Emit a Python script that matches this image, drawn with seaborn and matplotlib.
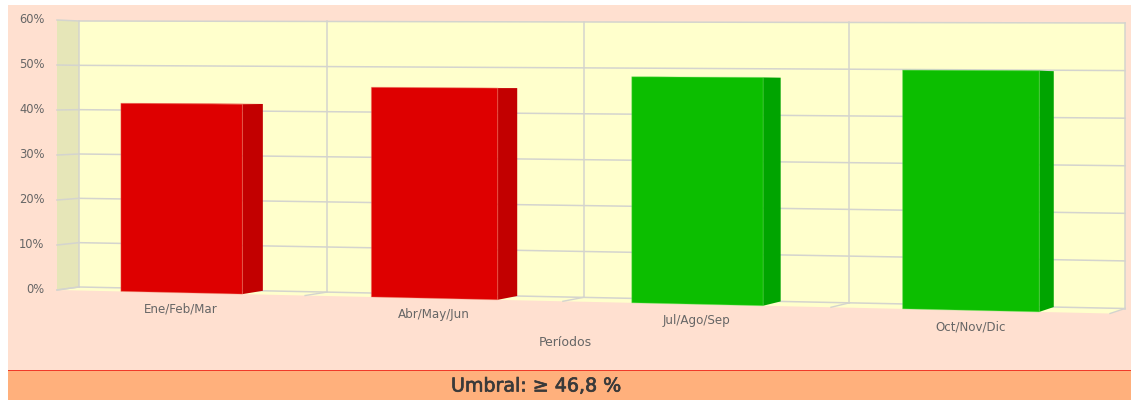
import numpy as np
import pandas as pd
import matplotlib
matplotlib.use('Agg')
import matplotlib.pyplot as plt
import matplotlib.patheffects as pe
from matplotlib.patches import Polygon, Rectangle
from matplotlib.transforms import Transform, IdentityTransform
import seaborn as sns

# values
periodos = ['Ene/Feb/Mar', 'Abr/May/Jun', 'Jul/Ago/Sep', 'Oct/Nov/Dic']
valores = [41.6, 45.5, 48.1, 49.8]
umbral = 46.8
ticks_y = [0, 10, 20, 30, 40, 50, 60]

W, H = 1131, 400
BAR_COLORS = {False: '#DE0000', True: '#0CBE00'}
SIDE_COLORS = {False: '#C20000', True: '#00A400'}
EDGE_COLORS = {False: '#F0807055', True: '#70E06055'}
GRID = '#D4D4CE'
TEXT = '#666666'


# maps (category, percent) to pixels, so the flat bar chart gets the perspective look
class Plane(Transform):
    input_dims = 2
    output_dims = 2

    def __init__(self, bl, br, tl, tr):
        super().__init__()
        src = [(-0.5, 0), (3.5, 0), (-0.5, 60), (3.5, 60)]
        A, b = [], []
        for (u, v), (x, y) in zip(src, [bl, br, tl, tr]):
            A.append([u, v, 1, 0, 0, 0, -u * x, -v * x])
            A.append([0, 0, 0, u, v, 1, -u * y, -v * y])
            b += [x, y]
        self.h = np.append(np.linalg.solve(np.array(A, float), np.array(b, float)), 1).reshape(3, 3)

    def transform_non_affine(self, values):
        values = np.asarray(values, float)
        p = np.column_stack([values, np.ones(len(values))]) @ self.h.T
        return np.column_stack([p[:, 0] / p[:, 2], H - p[:, 1] / p[:, 2]])


FRONT = Plane((57, 290), (1110, 313.5), (57, 20), (1110, 21.5))
BACK = Plane((79, 287), (1125, 308.5), (79, 21), (1125, 23))
# bars sit a little right of the wall edges
BAR_FRONT = Plane((58.5, 290), (1111.5, 313.5), (58.5, 20), (1111.5, 21.5))

fig = plt.figure(figsize=(W / 100, H / 100), dpi=100, facecolor='white')
fig.patches.append(Rectangle((8 / W, 0), 1, 1 - 5 / H, transform=fig.transFigure, fc='#FFE0D0', ec='none', zorder=-5))
fig.patches.append(Rectangle((8 / W, 0), 1, 29 / H, transform=fig.transFigure, fc='#FFB07C', ec='none', zorder=-4))
fig.patches.append(Rectangle((8 / W, 28.6 / H), 1, 1.2 / H, transform=fig.transFigure, fc='#F03A28', ec='none', zorder=-3))

ax = fig.add_axes([0, 0, 1, 1])
ax.patch.set_visible(False)

df = pd.DataFrame({'periodo': periodos, 'valor': valores})
df['cumple'] = df['valor'] >= umbral
sns.barplot(data=df, x='periodo', y='valor', hue='cumple', palette=BAR_COLORS, order=periodos,
            dodge=False, width=0.49, saturation=1, errorbar=None, legend=False, ax=ax, zorder=4)
ax.set_xlim(-0.5, 3.5)
ax.set_ylim(0, 60)
ax.axis('off')


def pts(plane, *xy):
    return plane.transform(np.array(xy, float))


# walls and floor
ax.add_patch(Rectangle((-0.5, 0), 4, 60, transform=BACK, fc='#FFFFCC', ec='none', zorder=1))
ax.add_patch(Polygon(np.vstack([pts(FRONT, (-0.5, 0), (-0.5, 60)), pts(BACK, (-0.5, 60), (-0.5, 0))]),
                     transform=IdentityTransform(), fc='#E6E6B8', ec='none', zorder=1))
ax.add_patch(Polygon(np.vstack([pts(FRONT, (-0.5, 0), (3.5, 0)), pts(BACK, (3.5, 0), (-0.5, 0))]),
                     transform=IdentityTransform(), fc='#FFFFCC', ec='none', zorder=1))

for t in ticks_y:
    ax.plot([-0.5, 3.5], [t, t], transform=BACK, color=GRID, lw=1.1, zorder=2, clip_on=False)
    a = pts(FRONT, (-0.5, t))[0]
    b = pts(BACK, (-0.5, t))[0]
    ax.plot([a[0], b[0]], [a[1], b[1]], transform=IdentityTransform(), color=GRID, lw=1.1, zorder=2, clip_on=False)
    ax.annotate(f'{t}%', xy=(-0.5, t), xycoords=FRONT, xytext=(-9, 0.5), textcoords='offset points',
                ha='right', va='center', fontsize=8.3, color=TEXT)

for u in [-0.5, 0.5, 1.5, 2.5, 3.5]:
    ax.plot([u, u], [0, 60], transform=BACK, color=GRID, lw=1.1, zorder=2, clip_on=False)
    a = pts(FRONT, (u, 0))[0]
    b = pts(BACK, (u, 0))[0]
    ax.plot([a[0], b[0]], [a[1], b[1]], transform=IdentityTransform(), color=GRID, lw=1.0, zorder=2, clip_on=False)

# bars: front face comes from seaborn, side and top are added behind it
for p in list(ax.patches):
    if p.get_zorder() != 4:
        continue
    x0, x1, v = p.get_x(), p.get_x() + p.get_width(), p.get_height()
    ok = v >= umbral
    p.set_transform(BAR_FRONT)
    p.set_clip_on(False)
    p.set_edgecolor(EDGE_COLORS[ok])
    p.set_linewidth(0.8)
    side = np.vstack([pts(BAR_FRONT, (x1, 0), (x1, v)), pts(BACK, (x1, v), (x1, 0))])
    top = np.vstack([pts(BAR_FRONT, (x0, v), (x1, v)), pts(BACK, (x1, v), (x0, v))])
    ax.add_patch(Polygon(side, transform=IdentityTransform(), fc=SIDE_COLORS[ok], ec='none',
                         zorder=3, clip_on=False))
    ax.add_patch(Polygon(top, transform=IdentityTransform(), fc=BAR_COLORS[ok], ec='none',
                         zorder=3, clip_on=False))

for i, periodo in enumerate(periodos):
    ax.annotate(periodo, xy=(i, 0), xycoords=FRONT, xytext=(0.8, -11.8), textcoords='offset points',
                ha='center', va='center', fontsize=8.6, color=TEXT)

fig.text(565.5 / W, 1 - 342 / H, 'Períodos', ha='center', va='center', fontsize=9, color=TEXT)
fig.text(536 / W, 1 - 386 / H, 'Umbral: ≥ 46,8 %', ha='center', va='center', fontsize=13.7, color='#3A3A3A',
         path_effects=[pe.withStroke(linewidth=0.5, foreground='#3A3A3A')])

fig.savefig('out.png', dpi=100, facecolor=fig.get_facecolor())
